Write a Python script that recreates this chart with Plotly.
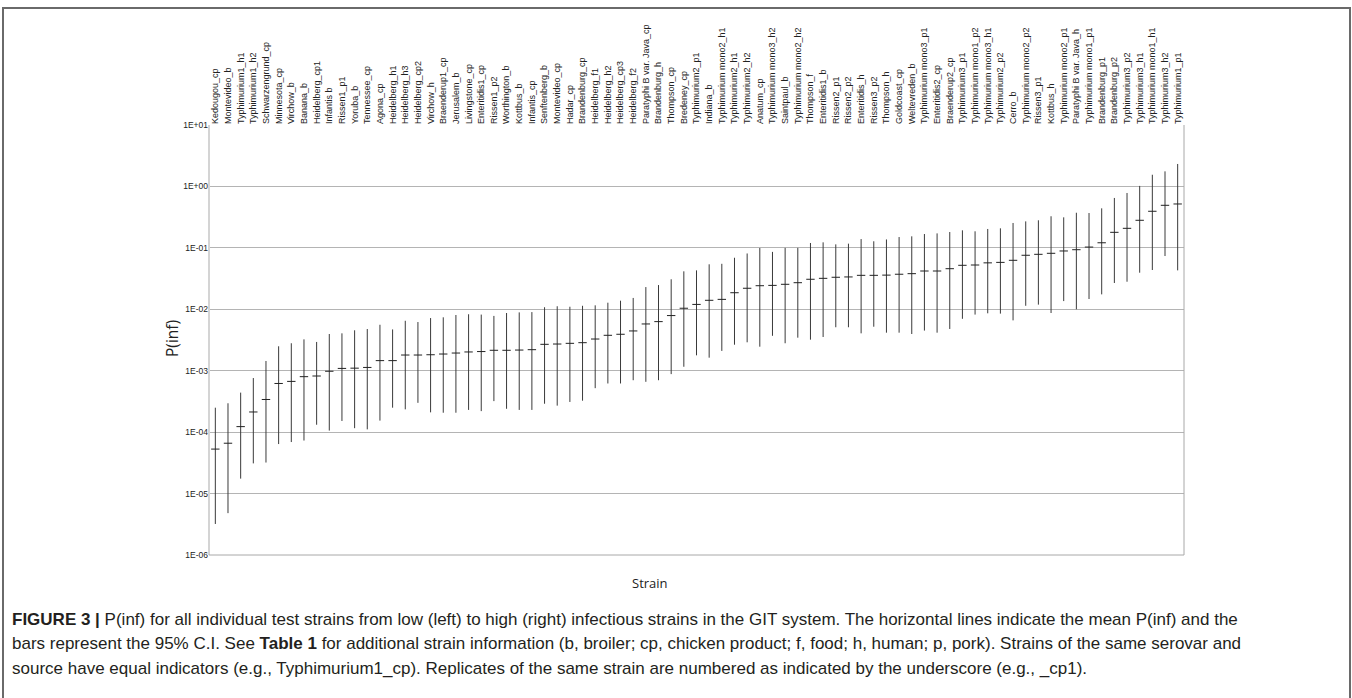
import plotly.graph_objects as go

# Test strains ordered from low to high infectivity
strains = [
    "Kedougou_cp", "Montevideo_b", "Typhimurium1_h1", "Typhimurium1_h2", "Schwarzengrund_cp",
    "Minnesota_cp", "Virchow_b", "Banana_b", "Heidelberg_cp1", "Infantis b",
    "Rissen1_p1", "Yoruba_b", "Tennessee_cp", "Agona_cp", "Heidelberg_h1",
    "Heidelberg_h3", "Heidelberg_cp2", "Virchow_h", "Braenderup1_cp", "Jerusalem_b",
    "Livingstone_cp", "Enteritidis1_cp", "Rissen1_p2", "Worthington_b", "Kottbus_b",
    "Infantis_cp", "Senftenberg_b", "Montevideo_cp", "Hadar_cp", "Brandenburg_cp",
    "Heidelberg_f1", "Heidelberg_h2", "Heidelberg_cp3", "Heidelberg_f2", "Paratyphi B var. Java_cp",
    "Brandenburg_h", "Thompson_cp", "Bredeney_cp", "Typhimurium2_p1", "Indiana_b",
    "Typhimurium mono2_h1", "Typhimurium2_h1", "Typhimurium2_h2", "Anatum_cp", "Typhimurium mono3_h2",
    "Saintpaul_b", "Typhimurium mono2_h2", "Thompson_f", "Enteritidis1_b", "Rissen2_p1",
    "Rissen2_p2", "Enteritidis_h", "Rissen3_p2", "Thompson_h", "Goldcoast_cp",
    "Weltevreden_b", "Typhimurium mono3_p1", "Enteritidis2_cp", "Braenderup2_cp", "Typhimurium3_p1",
    "Typhimurium mono1_p2", "Typhimurium mono3_h1", "Typhimurium2_p2", "Cerro_b", "Typhimurium mono2_p2",
    "Rissen3_p1", "Kottbus_h", "Typhimurium mono2_p1", "Paratyphi B var. Java_h", "Typhimurium mono1_p1",
    "Brandenburg_p1", "Brandenburg_p2", "Typhimurium3_p2", "Typhimurium3_h1", "Typhimurium mono1_h1",
    "Typhimurium3_h2", "Typhimurium1_p1",
]

# Mean P(inf)
p_mean = [
    5.3e-5, 6.6e-5, 1.23e-4, 2.13e-4, 3.4e-4, 6.2e-4, 6.7e-4, 8.0e-4, 8.2e-4, 9.8e-4,
    1.09e-3, 1.1e-3, 1.13e-3, 1.46e-3, 1.46e-3, 1.8e-3, 1.8e-3, 1.82e-3, 1.87e-3, 1.94e-3,
    2.02e-3, 2.05e-3, 2.15e-3, 2.15e-3, 2.17e-3, 2.2e-3, 2.69e-3, 2.72e-3, 2.79e-3, 2.86e-3,
    3.28e-3, 3.77e-3, 3.92e-3, 4.44e-3, 5.77e-3, 6.3e-3, 7.9e-3, 1.04e-2, 1.2e-2, 1.4e-2,
    1.45e-2, 1.86e-2, 2.2e-2, 2.42e-2, 2.45e-2, 2.55e-2, 2.71e-2, 3.08e-2, 3.19e-2, 3.32e-2,
    3.36e-2, 3.57e-2, 3.57e-2, 3.6e-2, 3.72e-2, 3.8e-2, 4.2e-2, 4.2e-2, 4.58e-2, 5.2e-2,
    5.26e-2, 5.7e-2, 5.8e-2, 6.27e-2, 7.57e-2, 7.85e-2, 8.15e-2, 8.9e-2, 9.33e-2, 0.103,
    0.121, 0.179, 0.208, 0.281, 0.394, 0.493, 0.518,
]

# Upper bound of the 95% C.I.
ci_high = [
    2.5e-4, 2.95e-4, 4.4e-4, 7.6e-4, 1.44e-3, 2.5e-3, 2.8e-3, 3.24e-3, 2.94e-3, 3.96e-3,
    4.06e-3, 4.55e-3, 4.77e-3, 5.6e-3, 4.7e-3, 6.5e-3, 6.2e-3, 7.2e-3, 7.4e-3, 8.07e-3,
    8.3e-3, 8.2e-3, 7.8e-3, 8.7e-3, 8.9e-3, 9.0e-3, 1.08e-2, 1.12e-2, 1.1e-2, 1.14e-2,
    1.16e-2, 1.28e-2, 1.38e-2, 1.53e-2, 2.3e-2, 2.48e-2, 3.08e-2, 4.15e-2, 4.3e-2, 5.4e-2,
    5.5e-2, 6.9e-2, 8.1e-2, 0.0996, 8.6e-2, 0.1, 0.1, 0.12, 0.123, 0.114,
    0.117, 0.139, 0.128, 0.137, 0.15, 0.154, 0.168, 0.172, 0.181, 0.193,
    0.186, 0.203, 0.208, 0.254, 0.27, 0.281, 0.327, 0.314, 0.373, 0.369,
    0.44, 0.649, 0.782, 1.02, 1.55, 1.76, 2.32,
]

# Lower bound of the 95% C.I.
ci_low = [
    3.2e-6, 4.8e-6, 1.75e-5, 3.1e-5, 3.2e-5, 6.4e-5, 6.9e-5, 7.3e-5, 1.32e-4, 1.06e-4,
    1.52e-4, 1.16e-4, 1.11e-4, 1.54e-4, 2.5e-4, 2.35e-4, 3.0e-4, 2.1e-4, 2.07e-4, 2.07e-4,
    2.3e-4, 2.2e-4, 3.2e-4, 2.4e-4, 2.3e-4, 2.3e-4, 2.9e-4, 2.7e-4, 3.1e-4, 3.25e-4,
    5.2e-4, 6.2e-4, 6.2e-4, 7.0e-4, 6.6e-4, 7.0e-4, 8.8e-4, 1.16e-3, 1.78e-3, 1.63e-3,
    2.1e-3, 2.65e-3, 2.9e-3, 2.46e-3, 3.7e-3, 2.8e-3, 3.45e-3, 3.2e-3, 3.54e-3, 5.1e-3,
    5.1e-3, 4.06e-3, 5.2e-3, 4.16e-3, 4.16e-3, 3.96e-3, 4.5e-3, 4.16e-3, 4.78e-3, 7.0e-3,
    8.2e-3, 8.6e-3, 8.5e-3, 6.6e-3, 1.14e-2, 1.19e-2, 8.7e-3, 1.36e-2, 1.0e-2, 1.47e-2,
    1.75e-2, 2.68e-2, 2.81e-2, 3.94e-2, 4.36e-2, 7.36e-2, 4.3e-2,
]

y_tickvals = [1e-6, 1e-5, 1e-4, 1e-3, 1e-2, 1e-1, 1e0, 1e1]
y_ticktext = ["1E-06", "1E-05", "1E-04", "1E-03", "1E-02", "1E-01", "1E+00", "1E+01"]

caption_lines = [
    "<b>FIGURE 3 |</b> P(inf) for all individual test strains from low (left) to high (right) infectious strains in the GIT system. The horizontal lines indicate the mean P(inf) and the",
    "bars represent the 95% C.I. See <b>Table 1</b> for additional strain information (b, broiler; cp, chicken product; f, food; h, human; p, pork). Strains of the same serovar and",
    "source have equal indicators (e.g., Typhimurium1_cp). Replicates of the same strain are numbered as indicated by the underscore (e.g., _cp1).",
]

err_plus = [h - m for h, m in zip(ci_high, p_mean)]
err_minus = [m - l for m, l in zip(p_mean, ci_low)]

fig = go.Figure()
fig.add_trace(go.Scatter(
    x=strains,
    y=p_mean,
    mode="markers",
    marker=dict(symbol="line-ew", size=6, line=dict(width=1, color="#222222")),
    error_y=dict(type="data", symmetric=False, array=err_plus, arrayminus=err_minus,
                 width=0, thickness=1, color="#3a3a3a"),
    showlegend=False,
    cliponaxis=False,
))

# Plot-area geometry (pixels)
L, R, T, B = 209, 1352 - 1184, 125, 698 - 555
W = 1352 - L - R
H = 698 - T - B


def px_x(px):
    return (px - L) / W


def px_y(py):
    return (698 - B - py) / H


shapes = [
    # plot frame
    dict(type="line", xref="paper", yref="paper", x0=0, x1=0, y0=0, y1=1,
         line=dict(color="#d4d4d4", width=2)),
    dict(type="line", xref="paper", yref="paper", x0=1, x1=1, y0=0, y1=1,
         line=dict(color="#a8a8a8", width=1)),
    dict(type="line", xref="paper", yref="paper", x0=0, x1=1, y0=0, y1=0,
         line=dict(color="#a8a8a8", width=1)),
    # outer figure box
    dict(type="rect", xref="paper", yref="paper", x0=px_x(3), x1=px_x(1350),
         y0=px_y(720), y1=px_y(8), line=dict(color="#6a6a6a", width=2), layer="below"),
]

annotations = [
    dict(text="Strain", xref="paper", yref="paper", x=px_x(650), y=px_y(583),
         xanchor="center", yanchor="middle", showarrow=False,
         font=dict(family="Open Sans", size=13, color="#222222")),
    dict(text="P(inf)", xref="paper", yref="paper", x=px_x(172), y=px_y(339),
         xanchor="center", yanchor="middle", showarrow=False, textangle=-90,
         font=dict(family="Open Sans", size=15.5, color="#222222")),
]
for i, line in enumerate(caption_lines):
    annotations.append(dict(
        text=line, xref="paper", yref="paper", x=px_x(10), y=px_y(619 + 24.5 * i),
        xanchor="left", yanchor="middle", showarrow=False,
        font=dict(family="Liberation Sans, Arial", size=17, color="#231f20"),
    ))

fig.update_layout(
    width=1352, height=698,
    margin=dict(l=L, r=R, t=T, b=B, pad=0),
    paper_bgcolor="white", plot_bgcolor="white",
    shapes=shapes,
    annotations=annotations,
    xaxis=dict(
        type="category", side="top", tickangle=-90,
        tickfont=dict(family="Liberation Sans, Arial", size=9, color="#222222"),
        showgrid=False, showline=False, ticks="", zeroline=False,
        range=[-0.5, len(strains) - 0.5],
    ),
    yaxis=dict(
        type="log", range=[-6, 1],
        tickvals=y_tickvals, ticktext=y_ticktext,
        tickfont=dict(family="Liberation Sans, Arial", size=8.5, color="#222222"),
        showgrid=True, gridcolor="#b4b4b4", gridwidth=1,
        showline=False, ticks="", zeroline=False,
    ),
)

fig.write_html("out.html")
